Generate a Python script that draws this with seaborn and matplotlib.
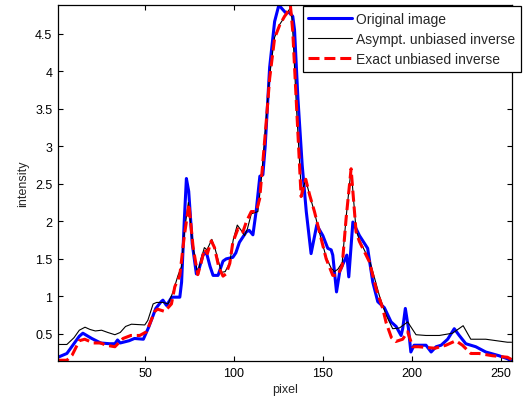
import matplotlib
matplotlib.use('Agg')
import matplotlib.pyplot as plt
import seaborn as sns

# Original image profile
orig_x = [1, 6, 13, 15, 20, 25, 30, 33, 34.5, 36, 41, 44, 49, 52, 56, 59, 60, 62, 65, 69.5,
          70.5, 72, 73.2, 74.5, 76.5, 78.8, 80.5, 82.5, 84.4, 86.5, 88.2, 91, 93.8, 95.6, 99.3,
          101, 103, 106.9, 108.5, 110.6, 112.5, 114.5, 116.2, 117.5, 120, 122.8, 125.2, 127,
          128.9, 131, 133, 134, 135.9, 138.3, 140.6, 143.3, 146.5, 149.9, 152.7, 154.6, 155.5,
          157.6, 159.4, 163.4, 164.5, 166.8, 170.5, 175.1, 178, 180.8, 184.5, 188.3, 191.1,
          193.9, 194.8, 196.3, 198, 199.4, 201.2, 207.9, 210.8, 213.6, 216.4, 220.1, 223.8,
          226.6, 230.3, 235.9, 241.5, 249, 253.7, 256]
orig_y = [0.19, 0.24, 0.47, 0.51, 0.44, 0.38, 0.37, 0.37, 0.42, 0.38, 0.41, 0.44, 0.43, 0.59,
          0.84, 0.93, 0.95, 0.88, 0.99, 0.99, 1.19, 2.0, 2.57, 2.4, 1.7, 1.30, 1.38, 1.55, 1.59,
          1.40, 1.28, 1.28, 1.47, 1.50, 1.52, 1.58, 1.72, 1.86, 1.88, 1.82, 2.15, 2.6, 2.62,
          3.0, 4.05, 4.66, 4.88, 4.83, 4.78, 4.78, 4.73, 4.55, 3.64, 2.75, 2.13, 1.57, 1.95,
          1.81, 1.64, 1.62, 1.55, 1.06, 1.33, 1.55, 1.26, 1.99, 1.81, 1.64, 1.19, 0.93, 0.85,
          0.66, 0.60, 0.48, 0.57, 0.84, 0.58, 0.26, 0.35, 0.35, 0.26, 0.33, 0.35, 0.43, 0.57,
          0.48, 0.37, 0.33, 0.26, 0.21, 0.17, 0.14]

# Asymptotically unbiased inverse
asym_x = [1, 6, 10, 13, 16.2, 19, 22, 25.5, 29, 33, 36, 39, 42.3, 49.8, 51.5, 54.5, 56.5, 60,
          62.9, 65.7, 68.5, 70.5, 72, 74.3, 77, 79.5, 81.5, 83.3, 84.8, 87.5, 89.5, 92.9, 95,
          97.6, 99.5, 101.8, 104, 105.9, 107.5, 109.7, 113.4, 115.3, 117, 120, 122.8, 125.6,
          128.4, 130, 132.1, 133.2, 135, 136.8, 137.9, 140.3, 142.5, 145.2, 148, 151.8, 154.5,
          156.4, 158.3, 160.8, 163, 165.8, 168.6, 170.5, 176.1, 178, 181.7, 185.5, 189.2, 193,
          197.6, 202.3, 207.9, 215.4, 222.8, 228.8, 233.1, 241.5, 253.7, 256]
asym_y = [0.36, 0.36, 0.45, 0.55, 0.59, 0.56, 0.54, 0.55, 0.52, 0.49, 0.52, 0.60, 0.63, 0.62,
          0.68, 0.90, 0.92, 0.92, 0.90, 1.06, 1.28, 1.40, 1.85, 2.25, 1.65, 1.30, 1.50, 1.65,
          1.62, 1.76, 1.62, 1.32, 1.33, 1.45, 1.75, 1.95, 1.88, 1.81, 1.90, 2.10, 2.13, 2.55,
          3.05, 3.95, 4.45, 4.62, 4.72, 4.78, 4.86, 4.45, 3.55, 2.80, 2.38, 2.55, 2.35, 2.12,
          1.85, 1.52, 1.38, 1.33, 1.36, 1.45, 2.05, 2.70, 1.88, 1.75, 1.48, 1.33, 1.01, 0.75,
          0.57, 0.58, 0.66, 0.49, 0.48, 0.48, 0.51, 0.61, 0.43, 0.43, 0.39, 0.39]

# Exact unbiased inverse
exact_x = [1, 6, 9, 13, 16, 21, 25, 28, 33, 37.6, 42, 47, 50.8, 55.4, 57, 61, 64.8, 66.7, 69.5,
           72, 74.6, 77, 79.6, 81.5, 83.3, 85, 87.2, 89, 91.5, 93.8, 95.5, 97.6, 99.3, 102.2,
           104, 105, 107, 109.7, 112.5, 114.4, 116.2, 118, 120, 122.8, 125.6, 128.4, 129.7,
           130.8, 131.7, 133, 134.9, 136.8, 137.7, 140.3, 142.5, 145.2, 148, 151.8, 155.5,
           158.3, 160.8, 163, 165.8, 168.6, 170.5, 176.1, 179.9, 183.6, 185.5, 188.5, 191,
           194.8, 197.6, 200.4, 203.7, 213, 219.1, 224.7, 228.4, 233.1, 237.8, 245.3, 253.7, 256]
exact_y = [0.15, 0.15, 0.22, 0.41, 0.43, 0.38, 0.38, 0.35, 0.33, 0.44, 0.48, 0.48, 0.53, 0.80,
           0.83, 0.80, 0.90, 1.13, 1.28, 1.80, 2.23, 1.65, 1.29, 1.45, 1.63, 1.57, 1.74, 1.65,
           1.38, 1.27, 1.30, 1.44, 1.72, 1.90, 1.85, 1.86, 2.00, 2.13, 2.13, 2.30, 2.79, 3.30,
           3.90, 4.44, 4.61, 4.73, 4.77, 4.84, 4.87, 4.53, 3.64, 2.75, 2.33, 2.56, 2.35, 2.13,
           1.86, 1.50, 1.28, 1.28, 1.41, 2.04, 2.70, 1.86, 1.73, 1.46, 1.10, 0.84, 0.65, 0.45,
           0.40, 0.43, 0.53, 0.33, 0.33, 0.31, 0.35, 0.41, 0.35, 0.24, 0.24, 0.21, 0.19, 0.16]

sns.set_theme(style="white")
plt.rcParams['font.family'] = ['Liberation Sans', 'DejaVu Sans']
plt.rcParams['font.size'] = 9

fig = plt.figure(figsize=(5.28, 4.02), dpi=100)
ax = fig.add_axes([0.1098, 0.0995, 0.8590, 0.8855])

sns.lineplot(x=orig_x, y=orig_y, ax=ax, color='#0000ff', linewidth=2.2,
             sort=False, estimator=None, label='Original image')
sns.lineplot(x=asym_x, y=asym_y, ax=ax, color='black', linewidth=0.8,
             sort=False, estimator=None, label='Asympt. unbiased inverse')
sns.lineplot(x=exact_x, y=exact_y, ax=ax, color='#ff0000', linewidth=2.2,
             sort=False, estimator=None, label='Exact unbiased inverse')
ax.lines[-1].set_dashes([3.6, 1.6])

ax.set_xlim(1, 256)
ax.set_ylim(0.14, 4.88)
ax.set_xticks([50, 100, 150, 200, 250])
ax.set_yticks([0.5, 1, 1.5, 2, 2.5, 3, 3.5, 4, 4.5])
ax.set_yticklabels(['0.5', '1', '1.5', '2', '2.5', '3', '3.5', '4', '4.5'])
ax.tick_params(direction='in', length=3.5, width=0.8, top=True, right=True,
               bottom=True, left=True, labelsize=9, colors='black', pad=4)
for s in ax.spines.values():
    s.set_visible(True)
    s.set_color('black')
    s.set_linewidth(0.9)

ax.set_xlabel('pixel', fontsize=9, labelpad=3)
ax.set_ylabel('intensity', fontsize=9, labelpad=4)

# legend box runs past the right spine, as in the original figure
leg = ax.legend(loc='upper left', bbox_to_anchor=(0.54, 0.997), borderaxespad=0,
                fancybox=False, framealpha=1, edgecolor='black', fontsize=10,
                handlelength=3.1, handletextpad=0.35, labelspacing=0.45,
                borderpad=0.4)
leg.get_frame().set_linewidth(0.9)

plt.savefig('out.png', dpi=100)
plt.close()
